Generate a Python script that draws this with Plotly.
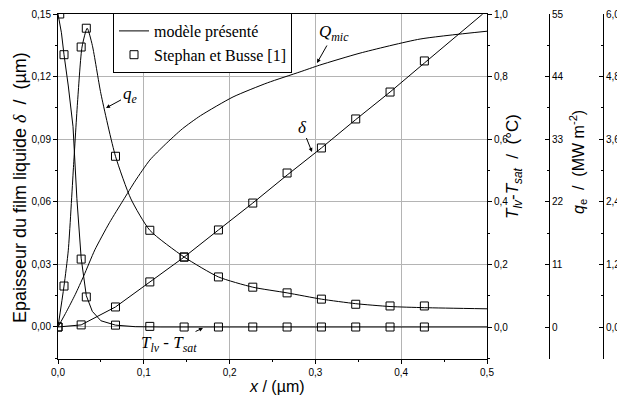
import plotly.graph_objects as go

# ---------------- data ----------------
# model curves
x_delta_model = [0.0, 0.027, 0.067, 0.107, 0.147, 0.187, 0.227, 0.267, 0.307, 0.347, 0.387, 0.427, 0.495]
delta_model = [0.0, 0.001, 0.0096, 0.0216, 0.0335, 0.0465, 0.0594, 0.0728, 0.0858, 0.0994, 0.1126, 0.1265, 0.15]

x_T_model = [0.0, 0.004, 0.007, 0.012, 0.0175, 0.022, 0.027, 0.033, 0.04, 0.05, 0.067, 0.09, 0.12, 0.5]
T_model = [1.0, 0.94, 0.87, 0.77, 0.64, 0.41, 0.22, 0.10, 0.05, 0.02, 0.006, 0.001, 0.0, 0.0]

x_qe_model = [0.0, 0.007, 0.012, 0.018, 0.023, 0.028, 0.034, 0.04, 0.05, 0.067, 0.085, 0.107, 0.147,
              0.187, 0.227, 0.267, 0.307, 0.347, 0.387, 0.427, 0.5]
qe_model = [0.0, 7.2, 13.5, 28.0, 40.0, 49.2, 52.5, 49.5, 41.0, 30.0, 22.5, 17.0, 12.3,
            8.8, 7.0, 6.0, 4.9, 4.1, 3.6, 3.4, 3.2]

x_Q_model = [0.0, 0.01, 0.02, 0.03, 0.043, 0.06, 0.076, 0.09, 0.107, 0.125, 0.145, 0.166, 0.204,
             0.244, 0.282, 0.305, 0.352, 0.422, 0.5]
Q_model = [0.0, 0.3, 0.62, 0.98, 1.48, 2.0, 2.43, 2.8, 3.2, 3.5, 3.8, 4.05, 4.41,
           4.68, 4.89, 5.02, 5.25, 5.52, 5.67]

# Stephan et Busse [1]
x_delta_exp = [0.0, 0.027, 0.067, 0.107, 0.147, 0.187, 0.227, 0.267, 0.307, 0.347, 0.387, 0.427]
delta_exp = [0.0, 0.001, 0.0096, 0.0216, 0.0335, 0.0465, 0.0594, 0.0738, 0.0858, 0.0997, 0.1126, 0.1275]

x_T_exp = [0.002, 0.007, 0.027, 0.033, 0.067, 0.107, 0.147, 0.187, 0.227, 0.267, 0.307, 0.347, 0.387, 0.427]
T_exp = [1.0, 0.87, 0.217, 0.096, 0.006, 0.002, 0.0, 0.0, 0.0, 0.0, 0.0, 0.0, 0.0, 0.0]

x_qe_exp = [0.0, 0.007, 0.027, 0.033, 0.067, 0.107, 0.147, 0.187, 0.227, 0.267, 0.307, 0.347, 0.387, 0.427]
qe_exp = [0.0, 7.2, 49.2, 52.5, 30.0, 17.0, 12.3, 8.8, 7.0, 6.0, 4.9, 4.0, 3.7, 3.7]

# ---------------- layout geometry ----------------
# the page body has an 8 px margin, so the figure is drawn 8 px right/down
OFF = 8
W, H = 625 - OFF, 403 - OFF
ML, MR, MT, MB = 58 - OFF, 10, 14 - OFF, 44
PW, PH = W - ML - MR, H - MT - MB


def px(xs):
    """screen x (px) -> paper x"""
    return (xs - OFF - ML) / PW


def py(ys):
    """screen y (px) -> paper y"""
    return (H - MB - (ys - OFF)) / PH


SANS = "Liberation Sans, Arial, sans-serif"
SERIF = "Liberation Serif, Times New Roman, serif"
tickfont = dict(family=SANS, size=10, color="black")

line_style = dict(color="black", width=1)
mk = dict(symbol="square-open", size=8, color="black", line=dict(width=1, color="black"))

fig = go.Figure()
fig.add_trace(go.Scatter(x=x_delta_model, y=delta_model, mode="lines", line=line_style,
                         name="modèle présenté", legendgroup="m", showlegend=True, yaxis="y"))
fig.add_trace(go.Scatter(x=x_T_model, y=T_model, mode="lines", line=line_style,
                         legendgroup="m", showlegend=False, yaxis="y2"))
fig.add_trace(go.Scatter(x=x_qe_model, y=qe_model, mode="lines",
                         line=dict(color="black", width=1, shape="spline", smoothing=0.6),
                         legendgroup="m", showlegend=False, yaxis="y3"))
fig.add_trace(go.Scatter(x=x_Q_model, y=Q_model, mode="lines",
                         line=dict(color="black", width=1, shape="spline", smoothing=0.6),
                         legendgroup="m", showlegend=False, yaxis="y4"))
fig.add_trace(go.Scatter(x=x_delta_exp, y=delta_exp, mode="markers", marker=mk,
                         name="Stephan et Busse [1]", legendgroup="e", showlegend=True, yaxis="y"))
fig.add_trace(go.Scatter(x=x_T_exp, y=T_exp, mode="markers", marker=mk,
                         legendgroup="e", showlegend=False, yaxis="y2"))
fig.add_trace(go.Scatter(x=x_qe_exp, y=qe_exp, mode="markers", marker=mk,
                         legendgroup="e", showlegend=False, yaxis="y3"))

xdom = [0, px(487)]
common_y = dict(showline=True, linecolor="black", linewidth=1, tickfont=tickfont, zeroline=False,
                ticklen=4, tickcolor="black", automargin=False)

fig.update_layout(
    width=W, height=H, margin=dict(l=ML, r=MR, t=MT, b=MB, autoexpand=False),
    paper_bgcolor="white", plot_bgcolor="white",
    separators=",.",
    font=dict(family=SANS, color="black"),
    xaxis=dict(domain=xdom, range=[0, 0.5], dtick=0.1, tick0=0, tickformat=".1f",
               showline=True, linecolor="black", linewidth=1, mirror=True, automargin=False,
               ticks="outside", ticklen=4, tickcolor="black", tickfont=tickfont,
               showgrid=True, gridcolor="#b4b4b4", gridwidth=1, zeroline=False,
               minor=dict(dtick=0.05, ticklen=2, tickcolor="black", showgrid=False)),
    yaxis=dict(range=[-0.01534, 0.15], dtick=0.03, tick0=0, tickformat=".2f", ticks="outside",
               showgrid=True, gridcolor="#b4b4b4", gridwidth=1, mirror=True,
               minor=dict(dtick=0.015, ticklen=2, tickcolor="black", showgrid=False), **common_y),
    yaxis2=dict(overlaying="y", side="right", anchor="x", range=[-0.1022, 1.0], dtick=0.2, tick0=0,
                tickformat=".1f", ticks="outside", showgrid=False,
                minor=dict(dtick=0.1, ticklen=2, tickcolor="black", showgrid=False), **common_y),
    yaxis3=dict(overlaying="y", side="right", anchor="free", position=px(549), range=[-5.62, 55],
                dtick=11, tick0=0, tickformat="d", ticks="inside", showgrid=False,
                minor=dict(dtick=5.5, ticklen=2, tickcolor="black", showgrid=False, ticks="inside"), **common_y),
    yaxis4=dict(overlaying="y", side="right", anchor="free", position=px(603), range=[-0.613, 6.0],
                dtick=1.2, tick0=0, tickformat=".1f", ticks="inside", showgrid=False,
                minor=dict(dtick=0.6, ticklen=2, tickcolor="black", showgrid=False, ticks="inside"), **common_y),
    legend=dict(x=px(113), y=py(13), xanchor="left", yanchor="top", bgcolor="white",
                bordercolor="black", borderwidth=1, font=dict(family=SERIF, size=16, color="black"),
                tracegroupgap=0, itemwidth=30),
)

ann = []
title_kw = dict(xref="paper", yref="paper", textangle=-90, showarrow=False,
                xanchor="center", yanchor="middle")
# axis titles
ann.append(dict(x=px(20), y=py(188),
                text="Epaisseur du film liquide <span style='font-family:Liberation Serif'><i>δ</i></span>  /  (µm)",
                font=dict(family=SANS, size=18, color="black"), **title_kw))
ann.append(dict(x=px(277), y=py(386), xref="paper", yref="paper", showarrow=False,
                xanchor="center", yanchor="middle",
                text="<i>x</i> / (µm)", font=dict(family=SANS, size=16, color="black")))
ann.append(dict(x=px(514), y=py(167),
                text="<i>T</i><sub><i>lv</i></sub>-<i>T</i><sub><i>sat</i></sub>  /  (°C)",
                font=dict(family=SANS, size=17, color="black"), **title_kw))
ann.append(dict(x=px(578), y=py(162),
                text="<i>q</i><sub>e</sub>  /  (MW m<sup>-2</sup>)",
                font=dict(family=SANS, size=16, color="black"), **title_kw))
ann.append(dict(x=px(634), y=py(160),
                text="<i>Q</i><sub>mic</sub>  /  (W m<sup>-1</sup>)",
                font=dict(family=SANS, size=16, color="black"), **title_kw))


# curve labels with arrows (data coords on left axis; screen px -> data)
def dx(xs):
    return (xs - 58) / 858.0


def dy(ys):
    return (327 - ys) / 2086.7


lab_font = dict(family=SERIF, size=17, color="black")
arrow = dict(showarrow=True, arrowhead=2, arrowsize=0.8, arrowwidth=1, arrowcolor="black",
             xref="x", yref="y", axref="pixel", ayref="pixel")
ann.append(dict(x=dx(106), y=dy(108), ax=24, ay=-13, text="<i>q</i><sub><i>e</i></sub>", font=lab_font, **arrow))
ann.append(dict(x=dx(317), y=dy(63), ax=17, ay=-30, text="<i>Q</i><sub><i>mic</i></sub>", font=lab_font, **arrow))
ann.append(dict(x=dx(312), y=dy(152), ax=-10, ay=-25, text="<i>δ</i>", font=lab_font, **arrow))
ann.append(dict(x=dx(203), y=dy(328), ax=-34, ay=16,
                text="<i>T</i><sub><i>lv</i></sub> - <i>T</i><sub><i>sat</i></sub>", font=lab_font, **arrow))

fig.update_layout(annotations=ann)
fig.write_html("out.html")
